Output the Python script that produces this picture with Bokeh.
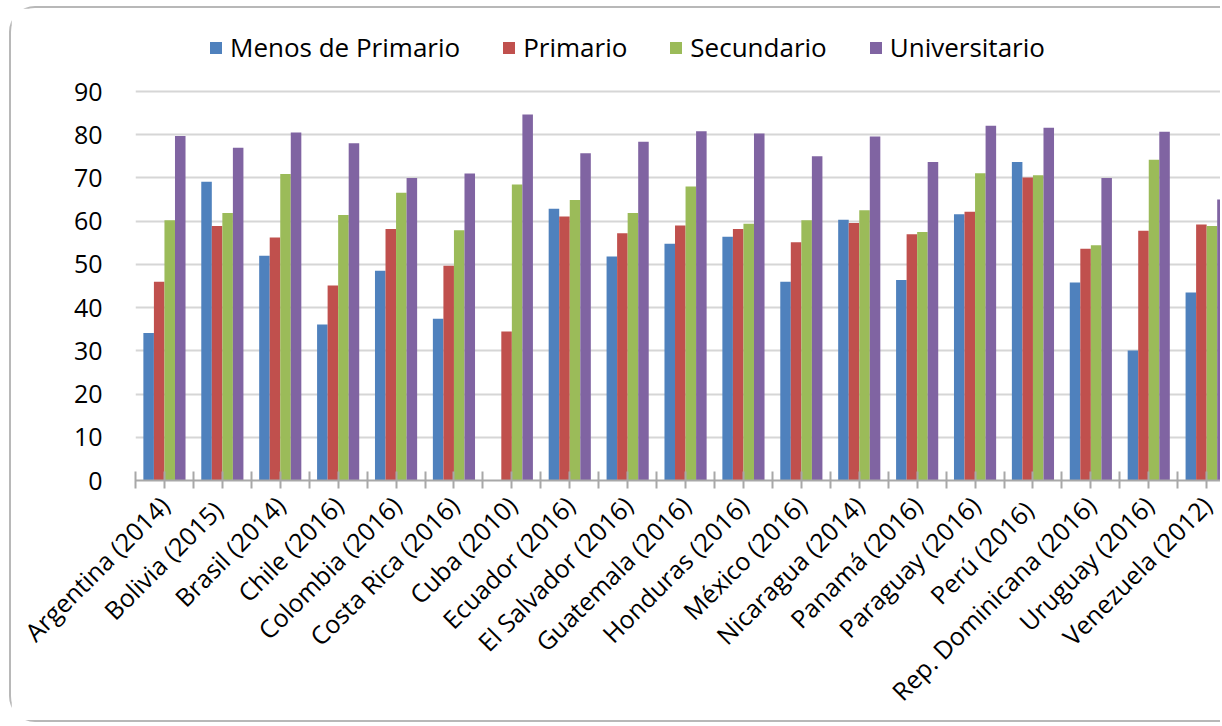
import math
from bokeh.plotting import figure
from bokeh.models import ColumnDataSource, FixedTicker, Legend, LegendItem, Range1d
from bokeh.transform import dodge
from bokeh.embed import file_html
from bokeh.resources import INLINE

nan = float("nan")

countries = ["Argentina (2014)", "Bolivia  (2015)", "Brasil (2014)", "Chile (2016)",
             "Colombia (2016)", "Costa Rica (2016)", "Cuba (2010)", "Ecuador (2016)",
             "El Salvador (2016)", "Guatemala (2016)", "Honduras (2016)", "México (2016)",
             "Nicaragua (2014)", "Panamá (2016)", "Paraguay (2016)", "Perú  (2016)",
             "Rep. Dominicana (2016)", "Uruguay (2016)", "Venezuela (2012)"]
series = ["Menos de Primario", "Primario", "Secundario", "Universitario"]
menos_de_primario = [34.1, 69.1, 52.0, 36.1, 48.5, 37.4, nan, 62.9, 51.8, 54.8,
                     56.4, 46.0, 60.3, 46.4, 61.6, 73.7, 45.8, 30.1, 43.5]
primario = [46.0, 58.9, 56.2, 45.1, 58.2, 49.7, 34.5, 61.1, 57.2, 59.0,
            58.2, 55.1, 59.6, 57.0, 62.2, 70.1, 53.6, 57.8, 59.2]
secundario = [60.2, 61.9, 70.9, 61.4, 66.6, 57.9, 68.5, 64.9, 61.9, 68.0,
              59.4, 60.2, 62.5, 57.5, 71.1, 70.6, 54.4, 74.2, 58.9]
universitario = [79.7, 77.0, 80.5, 78.0, 70.0, 71.0, 84.7, 75.7, 78.4, 80.8,
                 80.3, 75.0, 79.6, 73.7, 82.1, 81.6, 70.0, 80.7, 65.0]
y_ticks = [0, 10, 20, 30, 40, 50, 60, 70, 80, 90]

colors = ["#4F81BD", "#C0504D", "#9BBB59", "#8064A2"]
FONT = "Open Sans"

source = ColumnDataSource(data=dict(
    x=list(range(len(countries))),
    s0=menos_de_primario, s1=primario, s2=secundario, s3=universitario,
))

W, H = 1211, 716
left = 124
frame_bottom = 472          # canvas px of the value 0
px_90 = 389                 # px from 0 to 90
group_px = 57.9
frame_w = W - left
x_end = -0.5 + frame_w / group_px
y_end = 90 * frame_bottom / px_90

p = figure(width=W, height=H, output_backend="svg", toolbar_location=None,
           x_range=Range1d(-0.5, x_end), y_range=Range1d(0, y_end),
           min_border_left=left, min_border_top=0, min_border_right=0,
           min_border_bottom=H - frame_bottom)
p.outline_line_color = None
p.background_fill_color = "white"
p.border_fill_color = "white"
p.styles = {"margin-left": "9px", "margin-top": "6px",
            "border-top": "2px solid #b8b8b8", "border-left": "2px solid #b8b8b8",
            "border-bottom": "2px solid #b8b8b8",
            "border-top-left-radius": "26px", "border-bottom-left-radius": "26px"}

bw = 0.182
renderers = []
for k in range(4):
    off = (k - 1.5) * bw
    r = p.vbar(x=dodge("x", off, range=p.x_range), top="s%d" % k, width=bw,
               source=source, fill_color=colors[k], line_color=None)
    renderers.append(r)

p.xgrid.grid_line_color = None
p.ygrid.grid_line_color = "#d6d6d6"
p.ygrid.grid_line_width = 2
p.ygrid.ticker = FixedTicker(ticks=y_ticks)

ya = p.yaxis[0]
ya.ticker = FixedTicker(ticks=y_ticks)
ya.axis_line_color = None
ya.major_tick_line_color = None
ya.minor_tick_line_color = None
ya.major_label_standoff = 27
ya.major_label_text_font = FONT
ya.major_label_text_font_size = "25px"
ya.major_label_text_color = "black"

xa = p.xaxis[0]
ticks = [k * 0.5 - 0.5 for k in range(2 * len(countries) + 1)]
xa.ticker = FixedTicker(ticks=ticks)
overrides = {}
for t in ticks:
    overrides[t] = countries[int(t)] if float(t).is_integer() else ""
xa.major_label_overrides = overrides
xa.major_label_orientation = math.pi / 4
xa.axis_line_color = "#a8a8a8"
xa.axis_line_width = 2
xa.major_tick_line_color = "#a8a8a8"
xa.major_tick_line_width = 2
xa.major_tick_in = 9
xa.major_tick_out = 8
xa.minor_tick_line_color = None
xa.major_label_standoff = 12
xa.major_label_text_font = FONT
xa.major_label_text_font_size = "25px"
xa.major_label_text_color = "black"

legend = Legend(items=[LegendItem(label=series[k], renderers=[renderers[k]]) for k in range(4)],
                orientation="horizontal", location=(73, 415),
                glyph_width=15, glyph_height=15, label_standoff=7, spacing=41,
                padding=0, margin=0, border_line_color=None, background_fill_alpha=0,
                label_text_font=FONT, label_text_font_size="26px", label_text_color="black")
p.add_layout(legend, "center")

open("out.html", "w").write(file_html(p, INLINE))
